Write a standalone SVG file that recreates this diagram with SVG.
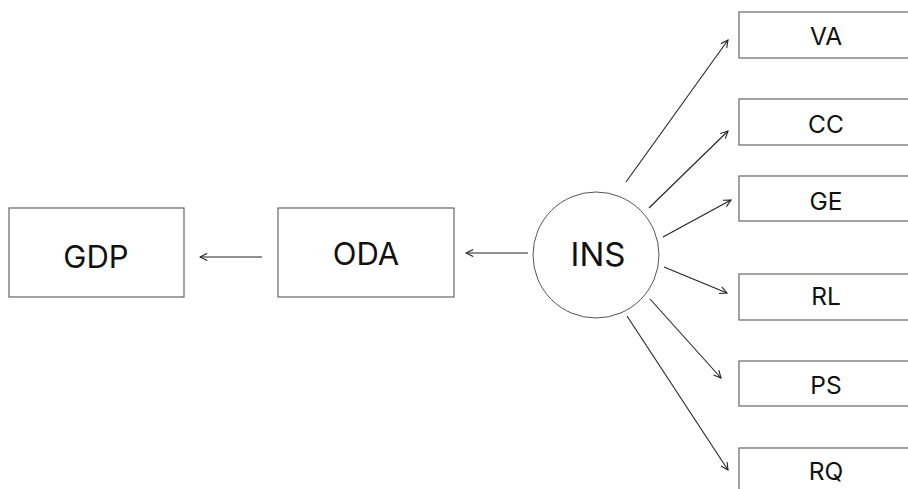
<svg xmlns="http://www.w3.org/2000/svg" width="908" height="489" viewBox="0 0 908 489">
<style>
.box{fill:#fff;stroke:#666;stroke-width:1.2}
.lbl{font-family:Inter,"Liberation Sans",sans-serif;fill:#111;text-anchor:middle}
.big{font-size:31px}
.sm{font-size:24.5px}
.ln{stroke:#222;stroke-width:1.1;fill:none;marker-end:url(#ah)}
</style>
<defs>
<marker id="ah" viewBox="0 0 10 10" refX="9" refY="5" markerWidth="9" markerHeight="9" markerUnits="userSpaceOnUse" orient="auto">
<path d="M1,1 L9,5 L1,9" fill="none" stroke="#222" stroke-width="1.2"/>
</marker>
</defs>
<rect width="908" height="489" fill="#fff"/>
<g id="GDP"><rect class="box" x="9" y="208" width="175" height="89"/><text class="lbl big" x="96" y="268">GDP</text></g>
<g id="ODA"><rect class="box" x="278" y="208" width="176" height="89"/><text class="lbl big" x="366" y="265">ODA</text></g>
<g id="INS"><circle cx="596" cy="255" r="63" fill="#fff" stroke="#555" stroke-width="1"/><text class="lbl" style="font-size:33px" x="598" y="266">INS</text></g>
<g id="VA"><rect class="box" x="739" y="12" width="175" height="46"/><text class="lbl sm" x="826" y="45">VA</text></g>
<g id="CC"><rect class="box" x="739" y="99" width="175" height="46"/><text class="lbl sm" x="826" y="133">CC</text></g>
<g id="GE"><rect class="box" x="739" y="176" width="175" height="45"/><text class="lbl sm" x="826" y="210">GE</text></g>
<g id="RL"><rect class="box" x="739" y="274" width="175" height="46"/><text class="lbl sm" x="826" y="305">RL</text></g>
<g id="PS"><rect class="box" x="739" y="361" width="175" height="45"/><text class="lbl sm" x="826" y="394">PS</text></g>
<g id="RQ"><rect class="box" x="739" y="448" width="175" height="50"/><text class="lbl sm" x="826" y="480">RQ</text></g>
<g id="connectors">
<line class="ln" x1="262" y1="257" x2="200" y2="257"/>
<line class="ln" x1="528" y1="253" x2="466" y2="253"/>
<line class="ln" x1="626" y1="182" x2="728" y2="40"/>
<line class="ln" x1="649" y1="208" x2="728" y2="131"/>
<line class="ln" x1="663" y1="237" x2="731" y2="200"/>
<line class="ln" x1="664" y1="267" x2="727" y2="293"/>
<line class="ln" x1="650" y1="299" x2="721" y2="378"/>
<line class="ln" x1="627" y1="316" x2="728" y2="470"/>
</g>
</svg>
